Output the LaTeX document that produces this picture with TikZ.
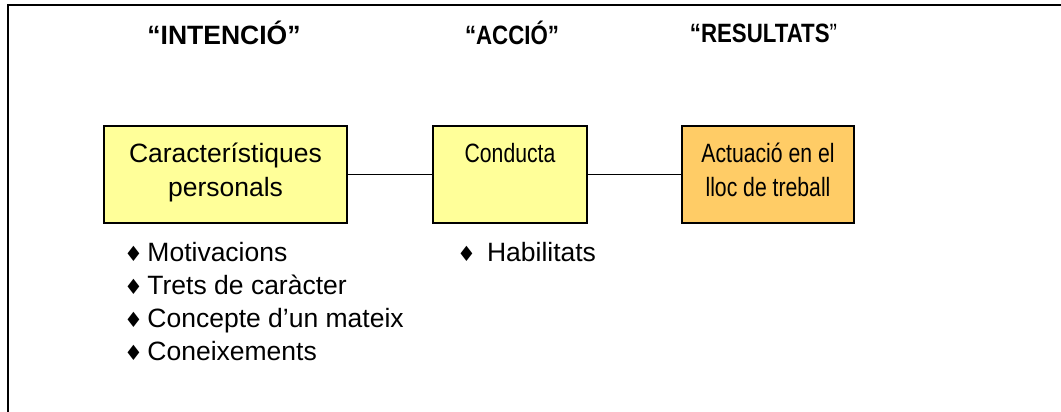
\documentclass[tikz,border=0pt]{standalone}
\usepackage{fontspec}
\setmainfont{Liberation Sans}
\newfontfamily\narrowsans[FakeStretch=0.8]{Liberation Sans}
\newfontfamily\narrowhead[FakeStretch=0.84]{Liberation Sans}
\newfontfamily\symfont{DejaVu Sans}
\definecolor{paleyellow}{HTML}{FFFF99}
\definecolor{lightorange}{HTML}{FFCC66}
\newcommand{\dia}{{\symfont\fontsize{21}{21}\selectfont ♦}}
% struts that fix the top and bottom of the two text lines in a box
\newcommand{\topstrut}{\rule{0pt}{22pt}}
\newcommand{\botstrut}{\rule[-12pt]{0pt}{12pt}}
\begin{document}
\begin{tikzpicture}[x=1pt,y=-1pt,
  every node/.style={font=\fontsize{26.5}{34}\selectfont},
  heading/.style={font=\bfseries\fontsize{26.5}{34}\selectfont, anchor=center},
  narrowheading/.style={heading, font=\narrowhead\bfseries\fontsize{26.5}{34}\selectfont},
  stagebox/.style={draw=black, line width=1.4pt, rectangle, minimum width=243pt,
    minimum height=97pt, align=center, inner sep=0pt},
  narrowbox/.style={stagebox, font=\narrowsans\fontsize{26.5}{34}\selectfont},
  itemlist/.style={anchor=north west, align=left, inner sep=0pt,
    font=\fontsize{26.5}{33}\selectfont},
  link/.style={draw=black, line width=1.4pt}]
  \useasboundingbox (0,0) rectangle (1061,412);
  \fill[white] (0,0) rectangle (1061,412);
  % outer frame
  \coordinate (frameTL) at (8,5);
  \coordinate (frameTR) at (1061,5);
  \coordinate (frameBL) at (8,412);
  \draw[line width=2pt] (frameTR) -- (frameTL) -- (frameBL);
  % stage headings
  \node[heading] (h1) at (224,33) {“INTENCIÓ”};
  \node[narrowheading] (h2) at (512,33) {“ACCIÓ”};
  \node[narrowheading] (h3) at (763.5,33) {“RESULTATS{\mdseries ”}};
  % stage boxes
  \node[stagebox, fill=paleyellow] (b1) at (225.5,174.5)
    {\topstrut Característiques\\personals\botstrut};
  \node[narrowbox, fill=paleyellow, minimum width=154pt] (b2) at (510,174.5)
    {\topstrut Conducta\\\botstrut};
  \node[narrowbox, fill=lightorange, minimum width=172pt] (b3) at (768,174.5)
    {\topstrut Actuació en el\\lloc de treball\botstrut};
  \draw[link] (b1.east) -- (b2.west);
  \draw[link] (b2.east) -- (b3.west);
  % lists under the boxes
  \node[itemlist] (l1) at (124,242) {\dia\,Motivacions\\\dia\,Trets de caràcter\\\dia\,Concepte d’un mateix\\\dia\,Coneixements};
  \node[itemlist] (l2) at (457,242) {\dia\hspace{11pt}Habilitats};
\end{tikzpicture}
\end{document}
